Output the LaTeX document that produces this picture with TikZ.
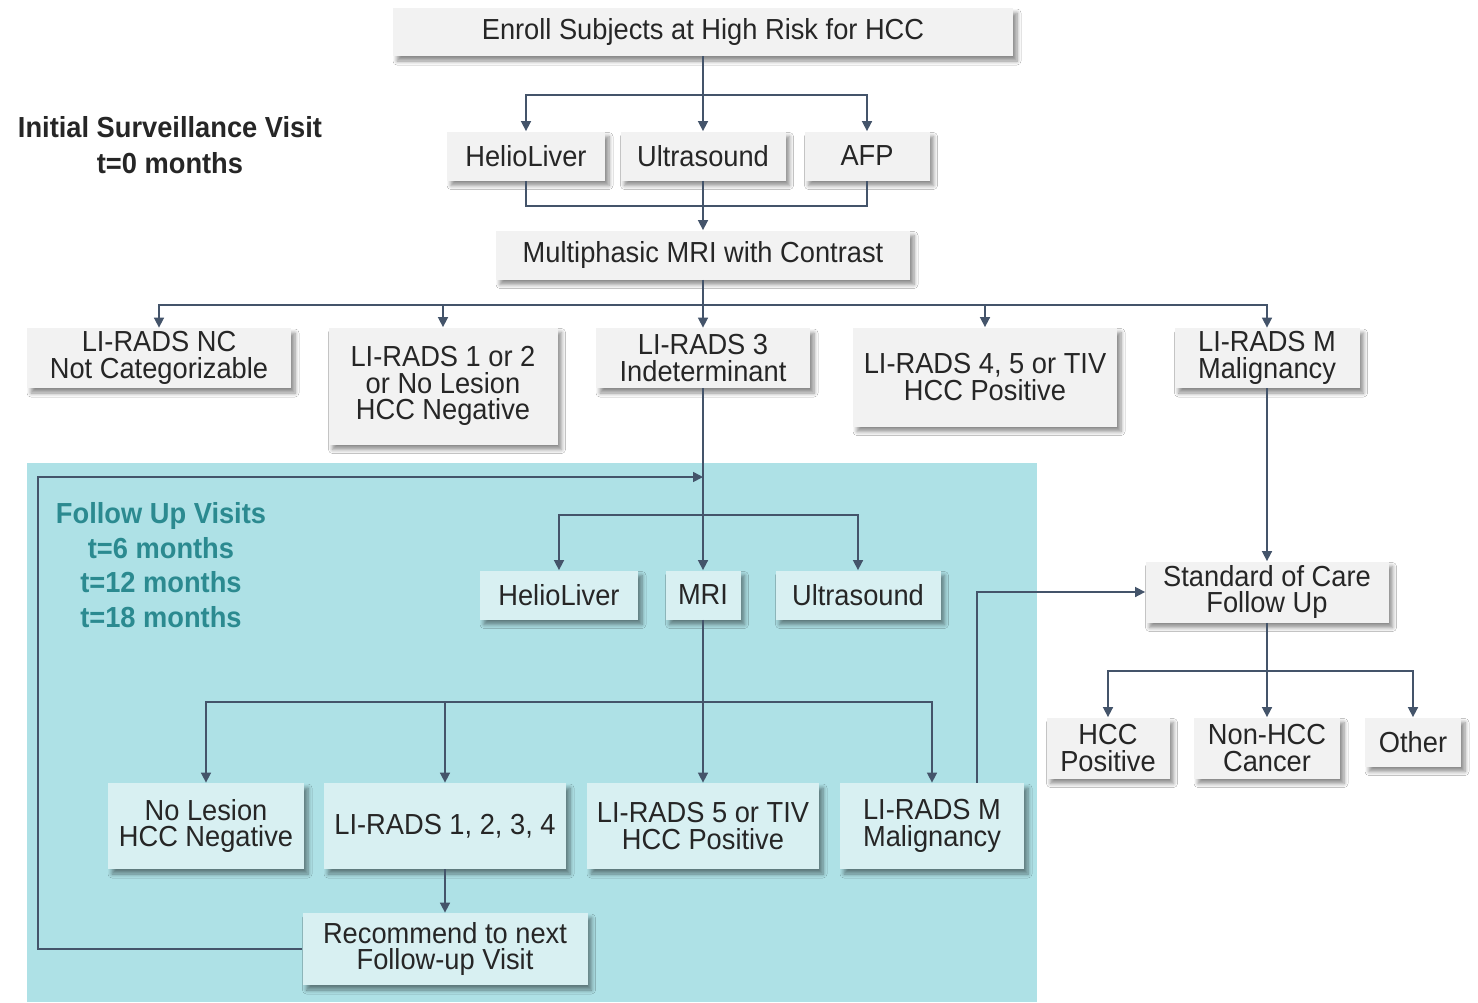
\documentclass[tikz,border=0pt]{standalone}
\usepackage{fontspec}
\setmainfont{Liberation Sans}[FakeStretch=0.94]
\usetikzlibrary{arrows.meta,shadows,shadows.blur}
\definecolor{lnc}{HTML}{44546A}
\definecolor{gboxc}{HTML}{F2F2F2}
\definecolor{panelc}{HTML}{AEE1E6}
\definecolor{tboxc}{HTML}{D8F0F2}
\definecolor{txtc}{HTML}{262626}
\definecolor{tealtxt}{HTML}{2B8A90}
\tikzset{
  x=0.5pt, y=-0.5pt,
  boxbase/.style={inner sep=0pt, align=center, text=txtc,
    font=\fontsize{14.5pt}{13.2pt}\selectfont,
    blur shadow={shadow xshift=2pt, shadow yshift=-2.5pt, shadow blur radius=2pt, shadow blur steps=6, shadow opacity=45}},
  gbox/.style={boxbase, fill=gboxc},
  tbox/.style={boxbase, fill=tboxc},
  ln/.style={draw=lnc, line width=0.8pt},
  arr/.style={ln, -{Triangle[length=5pt,width=5pt]}},
  lbl/.style={font=\fontsize{14.5pt}{18pt}\selectfont\bfseries, align=center}
}
\begin{document}
\begin{tikzpicture}
\useasboundingbox[fill=white] (0,0) rectangle (1478,1002);
% panel
\fill[panelc] (27,463) rectangle (1037,1002);

% labels
\node[lbl, text=txtc] (lblinit) at (170,145) {Initial Surveillance Visit\\[0pt]t=0 months};
\node[lbl, text=tealtxt, font=\fontsize{14.5pt}{17.3pt}\selectfont\bfseries] (lblfu) at (161,565) {Follow Up Visits\\t=6 months\\t=12 months\\t=18 months};

% top part
\node[gbox, minimum width=310pt, minimum height=24pt] (enroll) at (703,32) {Enroll Subjects at High Risk for HCC};
\node[gbox, minimum width=79pt, minimum height=24.5pt] (hl1) at (526,156) {HelioLiver};
\node[gbox, minimum width=82.5pt, minimum height=24.5pt] (us1) at (703,156) {Ultrasound};
\node[gbox, minimum width=62.5pt, minimum height=24.5pt] (afp) at (867,156) {AFP};
\node[gbox, minimum width=207pt, minimum height=24.5pt] (mri1) at (703,255) {Multiphasic MRI with Contrast};

\node[gbox, minimum width=132pt, minimum height=30pt] (nc) at (159,358) {LI-RADS NC\\Not Categorizable};
\node[gbox, minimum width=114.5pt, minimum height=58.5pt] (r12) at (443,386) {LI-RADS 1 or 2\\or No Lesion\\HCC Negative};
\node[gbox, minimum width=107pt, minimum height=30pt] (r3) at (703,358) {LI-RADS 3\\Indeterminant};
\node[gbox, minimum width=132pt, minimum height=49.5pt] (r45) at (985,377) {LI-RADS 4, 5 or TIV\\HCC Positive};
\node[gbox, minimum width=92.5pt, minimum height=30pt] (rm) at (1267,358) {LI-RADS M\\Malignancy};

\node[gbox, minimum width=121.5pt, minimum height=30.5pt] (soc) at (1267,592) {Standard of Care\\Follow Up};
\node[gbox, minimum width=61.5pt, minimum height=30.5pt] (hccp) at (1108,748) {HCC\\Positive};
\node[gbox, minimum width=73pt, minimum height=30.5pt] (nonhcc) at (1267,748) {Non-HCC\\Cancer};
\node[gbox, minimum width=48pt, minimum height=24.5pt] (other) at (1413,742) {Other};

% panel nodes
\node[tbox, minimum width=79pt, minimum height=24.5pt] (hl2) at (559,595) {HelioLiver};
\node[tbox, minimum width=37.5pt, minimum height=24.5pt] (mri2) at (703,595) {MRI};
\node[tbox, minimum width=82.5pt, minimum height=24.5pt] (us2) at (858,595) {Ultrasound};
\node[tbox, minimum width=98pt, minimum height=43pt] (nol) at (206,826) {No Lesion\\HCC Negative};
\node[tbox, minimum width=121pt, minimum height=43pt] (r1234) at (445,826) {LI-RADS 1, 2, 3, 4};
\node[tbox, minimum width=116pt, minimum height=43pt] (r5) at (703,826) {LI-RADS 5 or TIV\\HCC Positive};
\node[tbox, minimum width=92pt, minimum height=43pt] (rm2) at (932,826) {LI-RADS M\\Malignancy};
\node[tbox, minimum width=142.5pt, minimum height=36pt] (rec) at (445,949) {Recommend to next\\Follow-up Visit};

% coordinates
\coordinate (b1) at (703,95);
\coordinate (j1) at (703,206);
\coordinate (b2) at (703,305);
\coordinate (lp) at (38,477);
\coordinate (lpe) at (703,477);
\coordinate (b3) at (703,515);
\coordinate (b4) at (703,702);
\coordinate (b5) at (1267,671);

% connectors top
\draw[arr] (enroll) -- (us1);
\draw[arr] (b1) -| (hl1);
\draw[arr] (b1) -| (afp);
\draw[ln] (hl1) |- (j1) -| (afp);
\draw[arr] (us1) -- (mri1);
\draw[ln] (mri1) -- (b2);
\draw[arr] (b2) -| (nc);
\draw[arr] (b2) -| (r12);
\draw[arr] (b2) -- (r3);
\draw[arr] (b2) -| (r45);
\draw[arr] (b2) -| (rm);

% panel connectors
\draw[arr] (rec.west) -| (lp) -- (lpe);
\draw[arr] (r3) -- (mri2);
\draw[arr] (b3) -| (hl2);
\draw[arr] (b3) -| (us2);
\draw[arr] (mri2) -- (r5);
\draw[arr] (b4) -| (nol);
\draw[arr] (b4) -| (r1234);
\draw[arr] (b4) -| (rm2);
\draw[arr] (r1234) -- (rec);
\draw[arr] ([xshift=22.5pt]rm2.north) |- (soc);

% right side
\draw[arr] (rm) -- (soc);
\draw[arr] (soc) -- (nonhcc);
\draw[arr] (b5) -| (hccp);
\draw[arr] (b5) -| (other);
\end{tikzpicture}
\end{document}
